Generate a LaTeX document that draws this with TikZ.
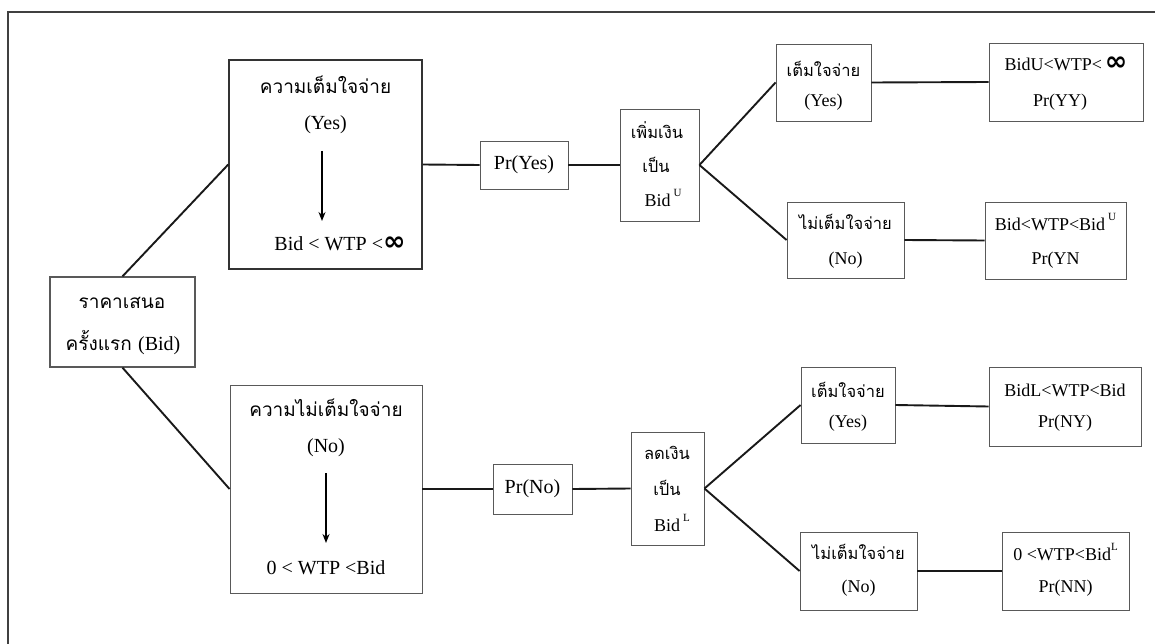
\documentclass[tikz,border=0pt]{standalone}
\usepackage{fontspec}
\setmainfont{Liberation Serif}
\newfontfamily\thai[Script=Thai]{Loma}
\newfontfamily\symf{DejaVu Sans}
\usetikzlibrary{arrows.meta}
\newcommand\infsym{{\symf\bfseries\fontsize{27}{27}\selectfont ∞}}
\newcommand\supsym[1]{\raisebox{0.55em}{\fontsize{11}{11}\selectfont #1}}
\tikzset{
  box/.style={draw=black!65, line width=0.9pt, inner sep=0pt},
  bigbox/.style={draw=black!80, line width=1.5pt, inner sep=0pt},
  conn/.style={line width=1.9pt, black!90},
  txt/.style={inner sep=0pt, font=\fontsize{20}{24}\selectfont},
  stxt/.style={inner sep=0pt, font=\fontsize{18}{22}\selectfont},
  thtxt/.style={inner sep=0pt, font=\thai\fontsize{19}{24}\selectfont},
  sthtxt/.style={inner sep=0pt, font=\thai\fontsize{16.5}{22}\selectfont},
  downarrow/.style={line width=1.5pt, -{Stealth[length=9pt,width=7pt]}}
}
\begin{document}
\begin{tikzpicture}[x=1pt,y=-1pt]
\useasboundingbox (0,0) rectangle (1155,644);
% frame
\coordinate (f1) at (8,644);
\coordinate (f2) at (8,12);
\coordinate (f3) at (1155,12);
\draw[line width=1.3pt, black!75] (f1) -- (f2) -- (f3);

% root
\node[box, line width=1.3pt, minimum width=145, minimum height=90] (root) at (122.5,322) {};
\node[thtxt] (r1) at (122,303) {ราคาเสนอ};
\node[thtxt] (r2) at (123,343) {ครั้งแรก {\rmfamily\fontsize{20}{24}\selectfont (Bid)}};

% top big box
\node[bigbox, minimum width=193, minimum height=209] (A) at (325.5,164.5) {};
\node[thtxt] (a1) at (325.5,85) {ความเต็มใจจ่าย};
\node[txt] (a2) at (325.5,125) {(Yes)};
\node[txt, anchor=base] (a3) at (340,251) {Bid < WTP <\infsym};
\coordinate (aS) at (322,151);
\coordinate (aE) at (322,221);
\draw[downarrow] (aS) -- (aE);

% bottom big box
\node[box, minimum width=192, minimum height=208] (B) at (326,489) {};
\node[thtxt] (b1) at (326,408) {ความไม่เต็มใจจ่าย};
\node[txt] (b2) at (326,448) {(No)};
\node[txt] (b3) at (326,568) {0 < WTP <Bid};
\coordinate (bS) at (326,473);
\coordinate (bE) at (326,543);
\draw[downarrow] (bS) -- (bE);

% probability boxes
\node[box, minimum width=88, minimum height=48, txt] (py) at (524,165) {Pr(Yes)};
\node[box, minimum width=79, minimum height=50, txt] (pn) at (532.5,489) {Pr(No)};

% bid change boxes
\node[box, minimum width=79, minimum height=112] (U) at (659.5,165) {};
\node[sthtxt] (u1) at (657,130) {เพิ่มเงิน};
\node[sthtxt] (u2) at (656,165) {เป็น};
\node[stxt] (u3) at (663,198) {Bid\,\supsym{U}};

\node[box, minimum width=73, minimum height=113] (D) at (667.5,488.5) {};
\node[sthtxt] (d1) at (667,453) {ลดเงิน};
\node[sthtxt] (d2) at (667,488) {เป็น};
\node[stxt] (d3) at (672,523) {Bid\,\supsym{L}};

% second answers
\node[box, minimum width=95, minimum height=77] (yy1) at (823.5,82.5) {};
\node[sthtxt] (yy1a) at (823.5,69) {เต็มใจจ่าย};
\node[stxt] (yy1b) at (823.5,102) {(Yes)};

\node[box, minimum width=117, minimum height=76] (yn1) at (845.5,240) {};
\node[sthtxt] (yn1a) at (845.5,222) {ไม่เต็มใจจ่าย};
\node[stxt] (yn1b) at (845.5,260) {(No)};

\node[box, minimum width=94, minimum height=76] (ny1) at (848,405) {};
\node[sthtxt] (ny1a) at (848,390) {เต็มใจจ่าย};
\node[stxt] (ny1b) at (848,423) {(Yes)};

\node[box, minimum width=117, minimum height=78] (nn1) at (858.5,571) {};
\node[sthtxt] (nn1a) at (858.5,552) {ไม่เต็มใจจ่าย};
\node[stxt] (nn1b) at (858.5,588) {(No)};

% outcomes
\node[box, minimum width=154, minimum height=78] (yy2) at (1066,82) {};
\node[stxt, anchor=base] (yy2a) at (1066,71) {BidU<WTP<\,\infsym};
\node[stxt] (yy2b) at (1060,102) {Pr(YY)};

\node[box, minimum width=141, minimum height=77] (yn2) at (1055.5,240.5) {};
\node[stxt] (yn2a) at (1055.5,222) {Bid<WTP<Bid\,\supsym{U}};
\node[stxt] (yn2b) at (1055.5,260) {Pr(YN};

\node[box, minimum width=152, minimum height=79] (ny2) at (1065,406.5) {};
\node[stxt] (ny2a) at (1065,390) {BidL<WTP<Bid};
\node[stxt] (ny2b) at (1065,423) {Pr(NY)};

\node[box, minimum width=127, minimum height=78] (nn2) at (1065.5,571) {};
\node[stxt] (nn2a) at (1065.5,552) {0 <WTP<Bid\supsym{L}};
\node[stxt] (nn2b) at (1065.5,588) {Pr(NN)};

% connectors
\draw[conn] (root.north) -- (A.west);
\draw[conn] (root.south) -- (B.west);
\draw[conn] (A.east) -- (py.west);
\draw[conn] (py.east) -- (U.west);
\draw[conn] (B.east) -- (pn.west);
\draw[conn] (pn.east) -- (D.west);
\draw[conn] (U.east) -- (yy1.west);
\draw[conn] (U.east) -- (yn1.west);
\draw[conn] (D.east) -- (ny1.west);
\draw[conn] (D.east) -- (nn1.west);
\draw[conn] (yy1.east) -- (yy2.west);
\draw[conn] (yn1.east) -- (yn2.west);
\draw[conn] (ny1.east) -- (ny2.west);
\draw[conn] (nn1.east) -- (nn2.west);
\end{tikzpicture}
\end{document}
